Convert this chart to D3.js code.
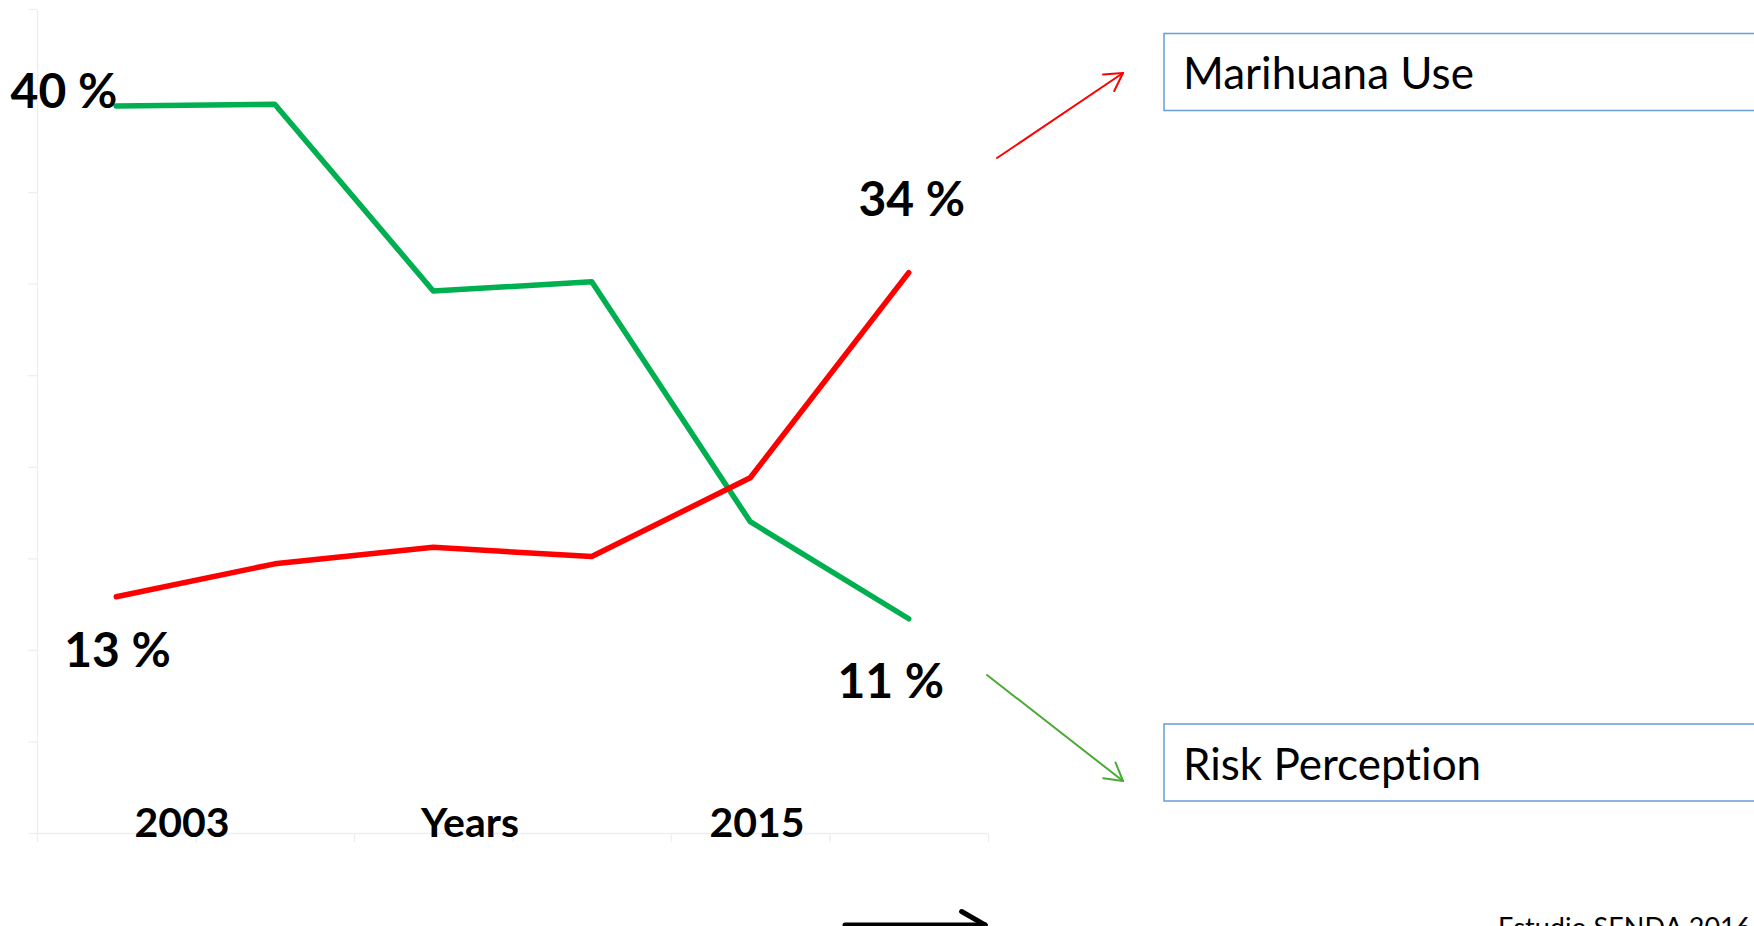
<!DOCTYPE html>
<html>
<head>
<meta charset="utf-8">
<script src="https://cdn.jsdelivr.net/npm/d3@7.9.0/dist/d3.min.js"></script>
<style>
  html, body { margin: 0; padding: 0; background: #fff; overflow: hidden; }
  svg { display: block; font-family: Lato, "Open Sans", sans-serif; font-variant-ligatures: none; }
</style>
</head>
<body>
<svg id="chart" width="1754" height="926"></svg>
<script>
// survey rounds (six points)
const periods = [1, 2, 3, 4, 5, 6];
const riskPerception = [39.7, 39.8, 29.6, 30.1, 17.0, 11.7];
const marihuanaUse = [12.9, 14.7, 15.6, 15.1, 19.4, 30.6];
const yTicks = [0, 5, 10, 15, 20, 25, 30, 35, 40, 45];
// labels printed at the line ends: risk start, use start, use end, risk end
const endLabels = ["40 %", "13 %", "34 %", "11 %"];
const axisLabels = ["2003", "Years", "2015"];
const legendLabels = ["Marihuana Use", "Risk Perception"];
const sourceText = "Estudio SENDA 2016";

const svg = d3.select("#chart");
const W = 1754, H = 926;
svg.append("rect").attr("width", W).attr("height", H).attr("fill", "#fff");

const plotLeft = 37, plotRight = 988, plotTop = 9, plotBottom = 833;
const x = d3.scaleBand().domain(periods).range([plotLeft, plotRight]);
const xEdge = d3.scaleLinear().domain([0, periods.length]).range([plotLeft, plotRight]);
const y = d3.scaleLinear().domain([0, 45]).range([plotBottom, plotTop]);
const px = d => x(d) + x.bandwidth() / 2;

const axisColor = "#eeeeee";

// faint axes, no labels
const gy = svg.append("g")
  .attr("transform", `translate(${plotLeft},0)`)
  .call(d3.axisLeft(y).tickValues(yTicks).tickSize(9).tickSizeOuter(0).tickFormat(""));
const gx = svg.append("g")
  .attr("transform", `translate(0,${plotBottom})`)
  .call(d3.axisBottom(xEdge).tickValues(d3.range(periods.length + 1)).tickSize(9).tickSizeOuter(0).tickFormat(""));
[gy, gx].forEach(g => {
  g.selectAll("path, line").attr("stroke", axisColor).attr("stroke-width", 1.3);
});

const line = d3.line().x((d, i) => px(periods[i])).y(d => y(d));

svg.append("path")
  .datum(riskPerception)
  .attr("d", line)
  .attr("fill", "none")
  .attr("stroke", "#00b050")
  .attr("stroke-width", 5.5)
  .attr("stroke-linecap", "round")
  .attr("stroke-linejoin", "round");

svg.append("path")
  .datum(marihuanaUse)
  .attr("d", line)
  .attr("fill", "none")
  .attr("stroke", "#ff0000")
  .attr("stroke-width", 5.5)
  .attr("stroke-linecap", "round")
  .attr("stroke-linejoin", "round");

// end-point value labels
const last = periods.length - 1;
const bold = (txt, xx, yy, anchor, size) =>
  svg.append("text")
    .attr("x", xx).attr("y", yy)
    .attr("text-anchor", anchor)
    .attr("font-size", size)
    .attr("font-weight", "bold")
    .attr("fill", "#000")
    .text(txt);

bold(endLabels[0], px(periods[0]) + 1, y(riskPerception[0]) + 2, "end", 48);
bold(endLabels[1], px(periods[0]) - 52, y(marihuanaUse[0]) + 70, "start", 48);
bold(endLabels[2], px(periods[last]) + 3, y(marihuanaUse[last]) - 57, "middle", 48);
bold(endLabels[3], px(periods[last]) - 18, y(riskPerception[last]) + 79, "middle", 48);

// axis captions
const captionX = [182, 470, 757];
axisLabels.forEach((t, i) => bold(t, captionX[i], plotBottom + 4, "middle", 41));

// annotation arrows
function arrow(x1, y1, x2, y2, color, width, head) {
  const a = Math.atan2(y2 - y1, x2 - x1);
  const g = svg.append("g")
    .attr("stroke", color).attr("stroke-width", width)
    .attr("stroke-linecap", "round").attr("fill", "none");
  g.append("line").attr("x1", x1).attr("y1", y1).attr("x2", x2).attr("y2", y2);
  [Math.PI / 6, -Math.PI / 6].forEach(s => {
    g.append("line")
      .attr("x1", x2).attr("y1", y2)
      .attr("x2", x2 - head * Math.cos(a + s))
      .attr("y2", y2 - head * Math.sin(a + s));
  });
}
arrow(997, 158, 1123, 73, "#ff0000", 2, 20);
arrow(987, 675, 1123, 781, "#4aab35", 2, 20);
arrow(845, 925, 985, 925, "#000", 5, 27);

// legend boxes
const boxY = [33.5, 724];
legendLabels.forEach((t, i) => {
  svg.append("rect")
    .attr("x", 1164).attr("y", boxY[i])
    .attr("width", 640).attr("height", 77)
    .attr("fill", "#fff")
    .attr("stroke", "#6fa3d8")
    .attr("stroke-width", 1.6);
  svg.append("text")
    .attr("x", 1183).attr("y", boxY[i] + 55.5)
    .attr("font-size", 44)
    .attr("fill", "#000")
    .text(t);
});

svg.append("text")
  .attr("x", 1498).attr("y", 937)
  .attr("font-size", 27)
  .attr("fill", "#000")
  .text(sourceText);
</script>
</body>
</html>
